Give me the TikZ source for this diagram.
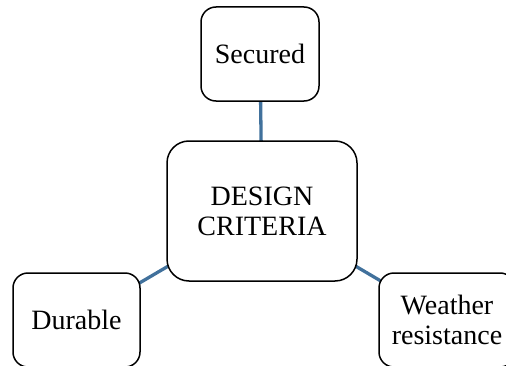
\documentclass[tikz,border=0pt]{standalone}
\usepackage{fontspec}
\setmainfont{Liberation Serif}
\usetikzlibrary{backgrounds}
\definecolor{linkblue}{RGB}{65,113,156}
\begin{document}
\begin{tikzpicture}[x=1pt,y=1pt,
  box/.style={draw=black, line width=1.5pt, fill=white, rounded corners=15pt,
    inner sep=0pt, align=center, font=\fontsize{28}{30}\selectfont},
  link/.style={draw=linkblue, line width=3.3pt}]
  \useasboundingbox (0,0) rectangle (506,365);
  \clip (0,0) rectangle (506,365);
  % central criterion box and the three attributes around it
  \node[box, rounded corners=22pt, minimum width=190pt, minimum height=140pt] (crit) at (262,154) {DESIGN\\CRITERIA};
  \node[box, minimum width=118pt, minimum height=94pt] (sec) at (260,311) {Secured};
  \node[box, minimum width=127pt, minimum height=94pt] (dur) at (76.5,45) {Durable};
  \node[box, minimum width=136pt, minimum height=94pt] (wea) at (447,45) {Weather\\resistance};
  % connectors run centre to centre, hidden behind the filled boxes
  \begin{scope}[on background layer]
    \draw[link] (crit.center) -- (sec.center);
    \draw[link] (crit.center) -- (dur.center);
    \draw[link] (crit.center) -- (wea.center);
  \end{scope}
\end{tikzpicture}
\end{document}
